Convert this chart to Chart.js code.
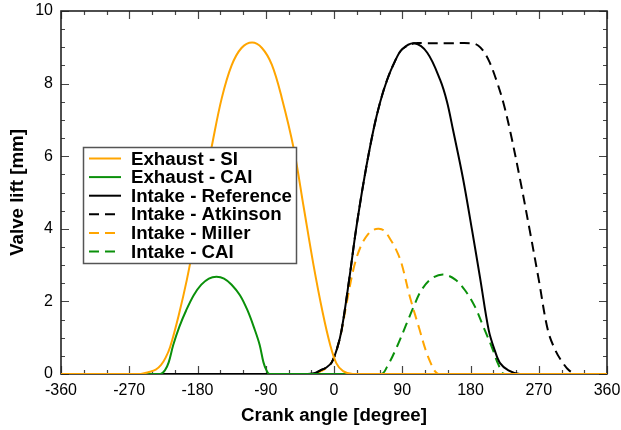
<!DOCTYPE html>
<html>
<head>
<meta charset="utf-8">
<script src="https://cdn.jsdelivr.net/npm/chart.js@4.4.1/dist/chart.umd.min.js"></script>
<style>
  html, body { margin: 0; padding: 0; background: #fff; }
  #wrap { width: 621px; height: 430px; position: relative; }
</style>
</head>
<body>
<div id="wrap"><canvas id="c" width="621" height="430"></canvas></div>
<script>
// ---- Data (crank angle in degrees, valve lift in mm) ----
const exhaustSI_angle = [-360,-255,-245,-235,-228,-222,-216,-205,-194,-182,-170,-160,-148,-135,-122,-108,-95,-82,-69,-53,-40,-27,-15,-5,3,12,25,360];
const exhaustSI_lift  = [0,0,0.05,0.12,0.25,0.45,0.75,1.6,2.6,3.9,5.3,6.4,7.6,8.5,8.98,9.13,8.98,8.52,7.62,6.2,4.6,3.0,1.7,0.8,0.3,0.08,0,0];

const exhaustCAI_angle = [-360,-229,-223,-218,-212,-204,-195,-185,-175,-165,-155,-145,-135,-124,-114,-105,-98,-93,-89,-85,360];
const exhaustCAI_lift  = [0,0,0.1,0.32,0.8,1.3,1.75,2.17,2.46,2.63,2.68,2.63,2.46,2.17,1.75,1.25,0.8,0.32,0.1,0,0];

const intakeRef_angle = [-360,-35,-25,-18,-10,-3,4,10,20,29,40,52,61,70,80,90,106,123,140,149,157,170,182,193,204,212,219,230,245,360];
const intakeRef_lift  = [0,0,0.03,0.1,0.18,0.32,0.7,1.21,2.6,3.97,5.4,6.72,7.5,8.1,8.6,8.95,9.11,8.85,8.1,7.5,6.72,5.4,3.97,2.6,1.21,0.65,0.3,0.1,0,0];

const intakeAtk_angle = [-360,-35,-25,-18,-10,-3,4,10,20,29,40,52,61,70,80,90,106,120,150,183,190,197,205,214,223,232,245,258,270,282,292,302,310,320,360];
const intakeAtk_lift  = [0,0,0.03,0.1,0.18,0.32,0.7,1.21,2.6,3.97,5.4,6.72,7.5,8.1,8.6,8.95,9.11,9.11,9.11,9.11,9.05,8.9,8.6,8.1,7.5,6.72,5.4,3.97,2.6,1.21,0.65,0.3,0.1,0,0];

const intakeMiller_angle = [-360,-30,-20,-10,-3,4,10,18,27,36,45,52,59,66,74,82,89,100,113,121,128,133,138,360];
const intakeMiller_lift  = [0,0,0.05,0.17,0.32,0.7,1.2,2.1,3.0,3.55,3.85,3.97,4.0,3.95,3.72,3.42,3.05,2.13,1.21,0.65,0.28,0.08,0,0];

const intakeCAI_angle = [-360,62,70,83,95,105,115,128,144,160,173,186,197,208,217,225,360];
const intakeCAI_lift  = [0,0,0.2,0.75,1.35,1.85,2.3,2.62,2.74,2.6,2.3,1.85,1.3,0.75,0.25,0,0];

const seriesLabels = ['Exhaust - SI','Exhaust - CAI','Intake - Reference','Intake - Atkinson','Intake - Miller','Intake - CAI'];
const xTickValues = [-360,-270,-180,-90,0,90,180,270,360];
const yTickValues = [0,2,4,6,8,10];

// ---- Styles ----
const ORANGE = '#ffa500';
const GREEN = '#0a900a';
const BLACK = '#000000';
const DASH = [10, 6];
const FONT = "'Liberation Sans', Arial, Helvetica, sans-serif";

function pts(a, l) { return a.map((x, i) => ({ x: x, y: l[i] })); }

const datasets = [
  { label: seriesLabels[0], data: pts(exhaustSI_angle, exhaustSI_lift), borderColor: ORANGE, borderDash: [] },
  { label: seriesLabels[1], data: pts(exhaustCAI_angle, exhaustCAI_lift), borderColor: GREEN, borderDash: [] },
  { label: seriesLabels[2], data: pts(intakeRef_angle, intakeRef_lift), borderColor: BLACK, borderDash: [] },
  { label: seriesLabels[3], data: pts(intakeAtk_angle, intakeAtk_lift), borderColor: BLACK, borderDash: DASH },
  { label: seriesLabels[4], data: pts(intakeMiller_angle, intakeMiller_lift), borderColor: ORANGE, borderDash: DASH },
  { label: seriesLabels[5], data: pts(intakeCAI_angle, intakeCAI_lift), borderColor: GREEN, borderDash: DASH }
].map(d => Object.assign(d, {
  borderWidth: 2, pointRadius: 0, fill: false,
  cubicInterpolationMode: 'default', tension: 0.35
}));

// Frame + inward ticks
const framePlugin = {
  id: 'frame',
  beforeDatasetsDraw(chart) {
    const { ctx, chartArea: a, scales: { x, y } } = chart;
    ctx.save();
    ctx.strokeStyle = '#444';
    ctx.lineWidth = 1.2;
    ctx.beginPath();
    for (let v = -360; v <= 360; v += 30) {
      const px = Math.round(x.getPixelForValue(v)) + 0.5;
      const len = (v % 90 === 0) ? 8 : 4;
      ctx.moveTo(px, a.bottom); ctx.lineTo(px, a.bottom - len);
      ctx.moveTo(px, a.top); ctx.lineTo(px, a.top + len);
    }
    for (let v = 0; v <= 10; v += 0.5) {
      const py = Math.round(y.getPixelForValue(v)) + 0.5;
      const len = (Math.abs(v % 2) < 1e-9) ? 8 : 4;
      ctx.moveTo(a.left, py); ctx.lineTo(a.left + len, py);
      ctx.moveTo(a.right, py); ctx.lineTo(a.right - len, py);
    }
    ctx.stroke();
    ctx.strokeStyle = '#222';
    ctx.lineWidth = 1.6;
    ctx.strokeRect(a.left, a.top, a.right - a.left, a.bottom - a.top);
    ctx.restore();
  }
};

// Legend box inside plot
const legendPlugin = {
  id: 'boxLegend',
  afterDatasetsDraw(chart) {
    const { ctx } = chart;
    const bx = 83.5, by = 147.5, bw = 213, bh = 116;
    ctx.save();
    ctx.fillStyle = '#fff';
    ctx.fillRect(bx, by, bw, bh);
    ctx.strokeStyle = '#555';
    ctx.lineWidth = 1.5;
    ctx.strokeRect(bx, by, bw, bh);
    ctx.font = 'bold 18.7px ' + FONT;
    ctx.textBaseline = 'middle';
    ctx.textAlign = 'left';
    chart.data.datasets.forEach((d, i) => {
      const cy = 158.5 + i * 18.6;
      ctx.strokeStyle = d.borderColor;
      ctx.lineWidth = 2;
      ctx.setLineDash(d.borderDash || []);
      ctx.beginPath();
      ctx.moveTo(89, cy); ctx.lineTo(121, cy);
      ctx.stroke();
      ctx.setLineDash([]);
      ctx.fillStyle = '#000';
      ctx.fillText(d.label, 131, cy + 1);
    });
    ctx.restore();
  }
};

new Chart(document.getElementById('c'), {
  type: 'line',
  data: { datasets: datasets },
  plugins: [framePlugin, legendPlugin],
  options: {
    responsive: false,
    animation: false,
    devicePixelRatio: 1,
    layout: { padding: { left: 0, right: 14, top: 11, bottom: 0 } },
    plugins: { legend: { display: false }, tooltip: { enabled: false } },
    scales: {
      x: {
        type: 'linear', min: -360, max: 360,
        afterBuildTicks(s) { s.ticks = xTickValues.map(v => ({ value: v })); },
        afterFit(s) { s.height = 56; s.paddingLeft = 0; s.paddingRight = 0; },
        grid: { display: false, drawTicks: false },
        border: { display: false },
        ticks: { font: { family: FONT, size: 16 }, color: '#000', padding: 7, maxRotation: 0, autoSkip: false },
        title: { display: true, text: 'Crank angle [degree]', color: '#000',
                 font: { family: FONT, size: 18.7, weight: 'bold' }, padding: { top: 0, bottom: 3 } }
      },
      y: {
        type: 'linear', min: 0, max: 10,
        afterBuildTicks(s) { s.ticks = yTickValues.map(v => ({ value: v })); },
        afterFit(s) { s.width = 61; s.paddingTop = 0; s.paddingBottom = 0; },
        grid: { display: false, drawTicks: false },
        border: { display: false },
        ticks: { font: { family: FONT, size: 16 }, color: '#000', padding: 8, autoSkip: false },
        title: { display: true, text: 'Valve lift [mm]', color: '#000',
                 font: { family: FONT, size: 18.7, weight: 'bold' }, padding: { top: 7, bottom: 0 } }
      }
    }
  }
});
</script>
</body>
</html>
